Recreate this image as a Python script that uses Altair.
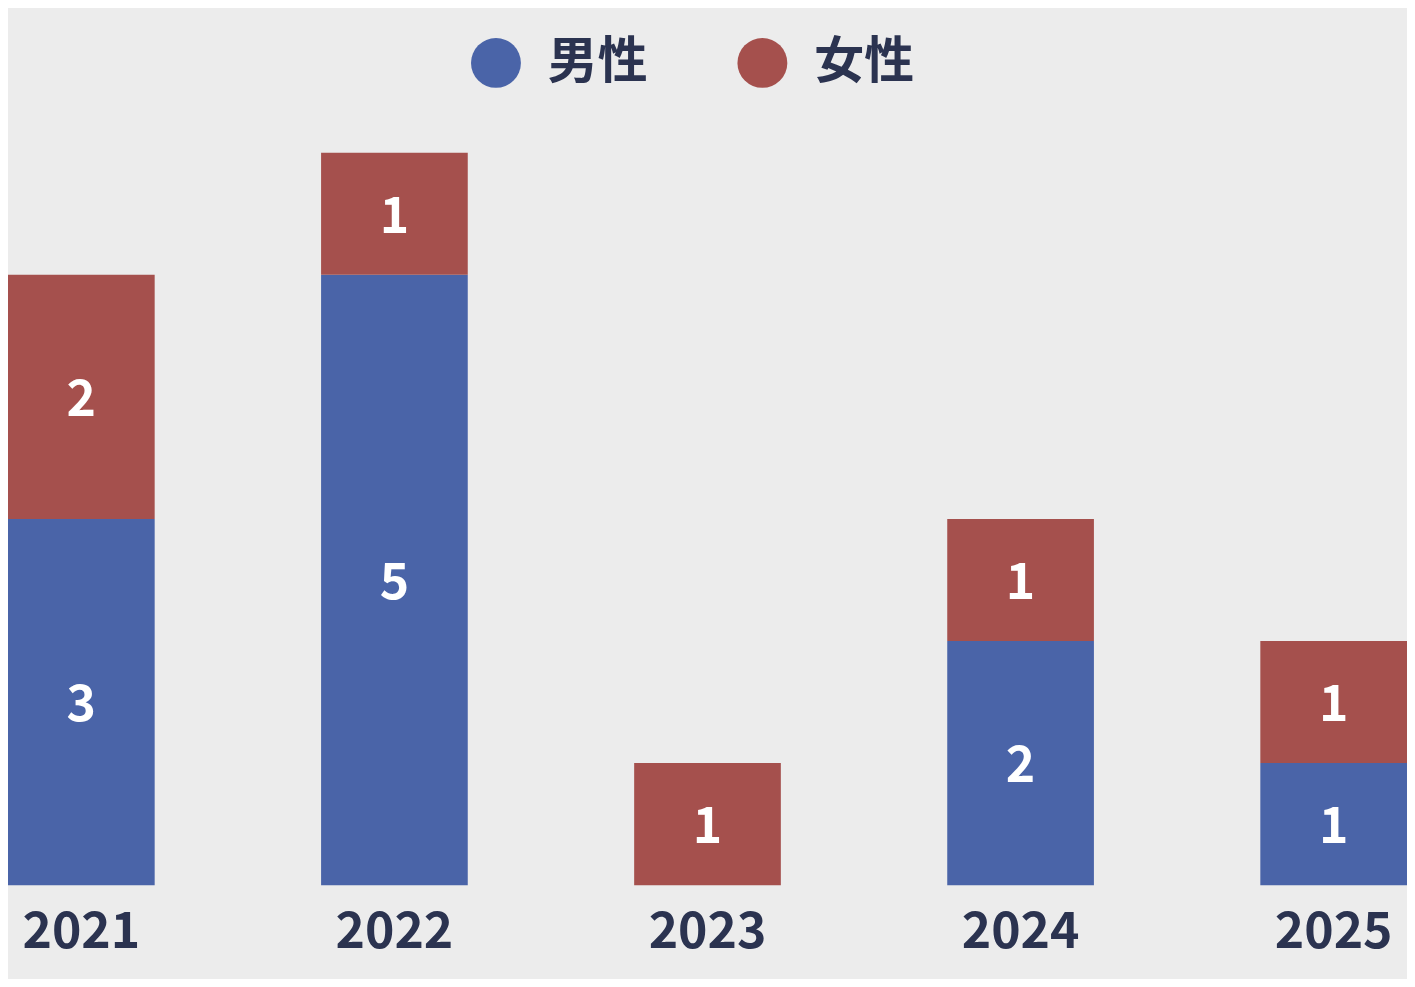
import altair as alt
import pandas as pd

years = ["2021", "2022", "2023", "2024", "2025"]
male = [3, 5, 0, 2, 1]
female = [2, 1, 1, 1, 1]
genders = ["男性", "女性"]
colors = ["#4a64a8", "#a5504d"]

rows = []
for i, y in enumerate(years):
    rows.append({"year": y, "gender": "男性", "order": 0, "count": male[i]})
    rows.append({"year": y, "gender": "女性", "order": 1, "count": female[i]})
df = pd.DataFrame(rows)

FONT = "Noto Sans CJK JP"
TEXT = "#2b3350"

base = alt.Chart(df).transform_filter(
    alt.datum.count > 0
).transform_stack(
    stack="count", groupby=["year"], as_=["y0", "y1"], sort=[alt.SortField("order")]
).transform_calculate(
    mid="(datum.y0 + datum.y1) / 2"
)

xenc = alt.X(
    "year:N",
    sort=years,
    scale=alt.Scale(paddingInner=0.5315, paddingOuter=0),
    axis=alt.Axis(
        title=None, labelAngle=0, domain=False, ticks=False, labelFontSize=50,
        labelFont=FONT, labelFontWeight="bold", labelColor=TEXT, labelPadding=22,
    ),
)

bars = base.mark_bar().encode(
    x=xenc,
    y=alt.Y("y0:Q", scale=alt.Scale(domain=[0, 6]), axis=None),
    y2="y1:Q",
    color=alt.Color(
        "gender:N",
        scale=alt.Scale(domain=genders, range=colors),
        legend=alt.Legend(
            title=None, orient="none", legendX=464, legendY=-115, direction="horizontal",
            symbolType="circle", symbolSize=2500, symbolStrokeWidth=0, symbolOpacity=1,
            labelFontSize=50, labelFont=FONT, labelFontWeight="bold", labelColor=TEXT,
            labelOffset=27, columnPadding=90, padding=0, labelLimit=300,
        ),
    ),
)

labels = base.mark_text(
    color="white", fontSize=50, font=FONT, fontWeight="bold", baseline="middle", dy=4
).encode(
    x=alt.X("year:N", sort=years),
    y=alt.Y("mid:Q"),
    text=alt.Text("count:Q"),
)

chart = alt.layer(bars, labels).properties(
    width=1402,
    height=734,
    background="#ececec",
    padding={"left": 0, "top": 144, "right": 0, "bottom": 93},
    autosize=alt.AutoSizeParams(type="none"),
).configure_view(stroke=None)

chart.save("out.html", embed_options={"renderer": "svg", "actions": False})
